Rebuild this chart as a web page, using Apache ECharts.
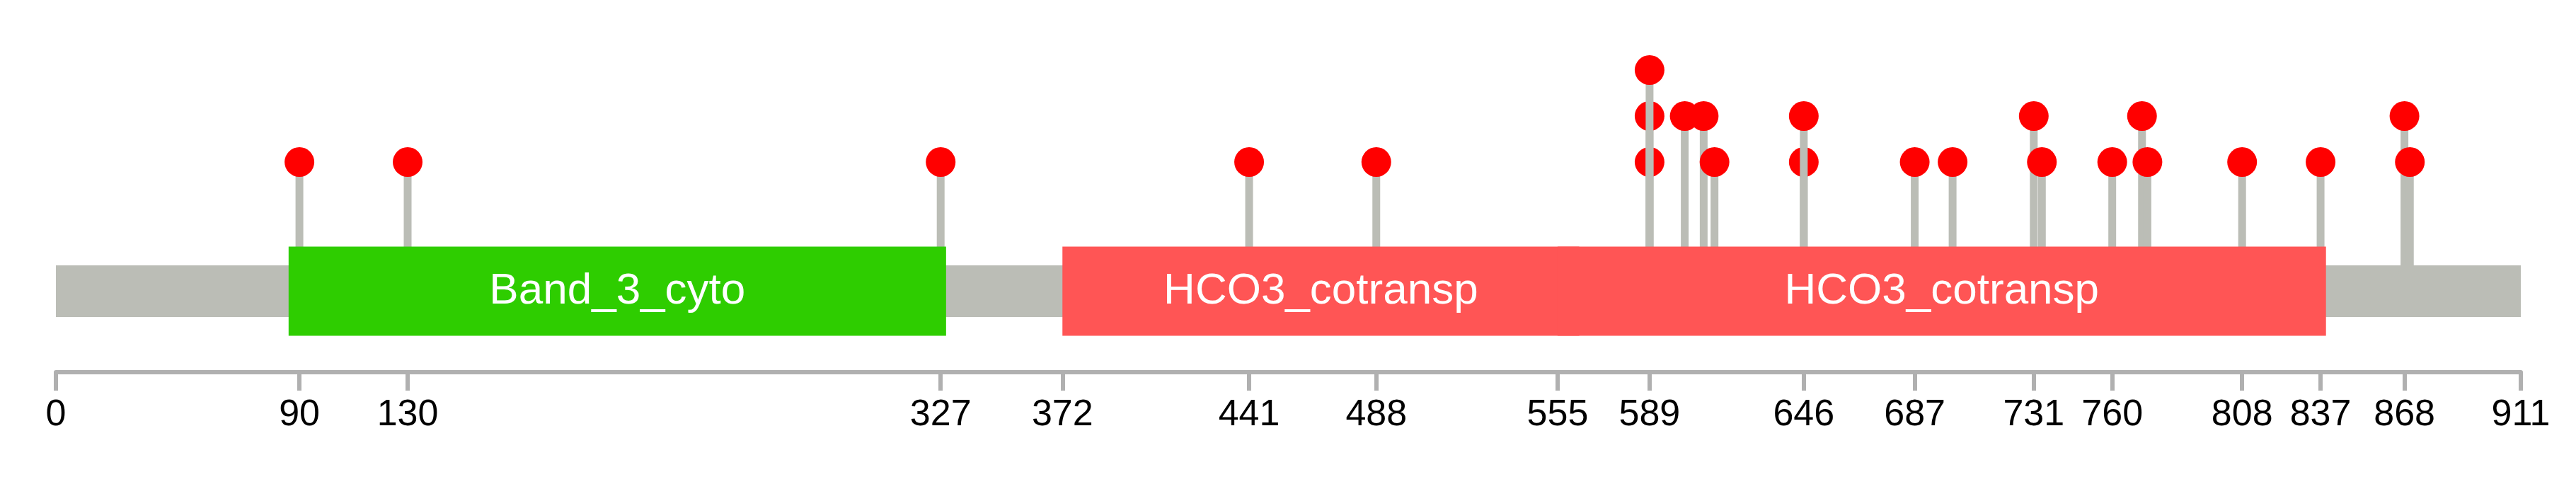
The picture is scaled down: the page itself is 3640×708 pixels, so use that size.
<!DOCTYPE html>
<html>
<head>
<meta charset="utf-8">
<script src="https://cdn.jsdelivr.net/npm/echarts@6/dist/echarts.min.js"></script>
<style>
  html, body { margin: 0; padding: 0; background: #fff; }
  #chart { width: 3640px; height: 708px; }
</style>
</head>
<body>
<div id="chart"></div>
<script>
// protein length and the labelled positions on the ruler
const proteinLength = 911;
const tickValues = [0, 90, 130, 327, 372, 441, 488, 555, 589, 646, 687, 731, 760, 808, 837, 868, 911];

// domains
const domainNames = ['Band_3_cyto', 'HCO3_cotransp', 'HCO3_cotransp'];
const domainStarts = [86, 372, 555];
const domainEnds = [329, 563, 839];

// mutations: position and stack level of the head
const mutationPos   = [90, 130, 327, 441, 488, 589, 589, 589, 602, 609, 613, 646, 646, 687, 701, 731, 734, 760, 771, 773, 808, 837, 868, 870];
const mutationLevel = [1,  1,   1,   1,   1,   1,   2,   3,   2,   2,   1,   1,   2,   1,   1,   2,   1,   1,   2,   1,   1,   1,   2,   1];

// styles
const domainColor = { Band_3_cyto: '#2ecd00', HCO3_cotransp: '#ff5555' };
const grayColor = '#bbbdb6';
const axisColor = '#b0b0b0';
const headColor = '#ff0000';
const LEVEL_OFFSET = 1.808; // level-1 heads sit this far above the backbone centre (in level steps)
const FONT = 'Liberation Sans, Arial, sans-serif';

const chart = echarts.init(document.getElementById('chart'));

const option = {
  animation: false,
  grid: { left: 79, right: 78, top: 0, bottom: 182 },
  xAxis: {
    type: 'value',
    min: 0,
    max: proteinLength,
    splitLine: { show: false },
    axisLine: { show: true, onZero: false, lineStyle: { color: axisColor, width: 6 } },
    axisTick: { show: true, length: 26, customValues: tickValues, lineStyle: { color: axisColor, width: 6 } },
    axisLabel: {
      customValues: tickValues,
      fontSize: 52,
      color: '#000',
      margin: 35,
      fontFamily: FONT,
      hideOverlap: false
    }
  },
  yAxis: { type: 'value', min: -1.7615, max: 6.3308, show: false },
  series: [
    {
      // lollipops: stem + head, drawn under backbone and domains
      type: 'custom',
      z: 1,
      data: mutationPos.map((p, i) => [p, mutationLevel[i]]),
      encode: { x: 0, y: 1 },
      renderItem(params, api) {
        const base = api.coord([api.value(0), 0]);
        const head = api.coord([api.value(0), api.value(1) + LEVEL_OFFSET]);
        return {
          type: 'group',
          children: [
            { type: 'line', shape: { x1: base[0], y1: base[1], x2: head[0], y2: head[1] },
              style: { stroke: grayColor, lineWidth: 11 } },
            { type: 'circle', shape: { cx: head[0], cy: head[1], r: 21 },
              style: { fill: headColor } }
          ]
        };
      }
    },
    {
      // backbone
      type: 'custom',
      z: 2,
      data: [[0, proteinLength]],
      encode: { x: [0, 1] },
      renderItem(params, api) {
        const a = api.coord([api.value(0), 0]);
        const b = api.coord([api.value(1), 0]);
        return {
          type: 'rect',
          shape: { x: a[0], y: a[1] - 36.5, width: b[0] - a[0], height: 73 },
          style: { fill: grayColor }
        };
      }
    },
    {
      // domains
      type: 'custom',
      z: 3,
      data: domainStarts.map((s, i) => [s, domainEnds[i]]),
      encode: { x: [0, 1] },
      renderItem(params, api) {
        const name = domainNames[params.dataIndex];
        const a = api.coord([api.value(0), 0]);
        const b = api.coord([api.value(1), 0]);
        return {
          type: 'group',
          children: [
            { type: 'rect', shape: { x: a[0], y: a[1] - 63, width: b[0] - a[0], height: 126 },
              style: { fill: domainColor[name] } },
            { type: 'text', x: (a[0] + b[0]) / 2, y: a[1],
              style: { text: name, fill: '#fff', fontSize: 62, fontFamily: FONT,
                       align: 'center', verticalAlign: 'middle' } }
          ]
        };
      }
    }
  ]
};

chart.setOption(option);
</script>
</body>
</html>
